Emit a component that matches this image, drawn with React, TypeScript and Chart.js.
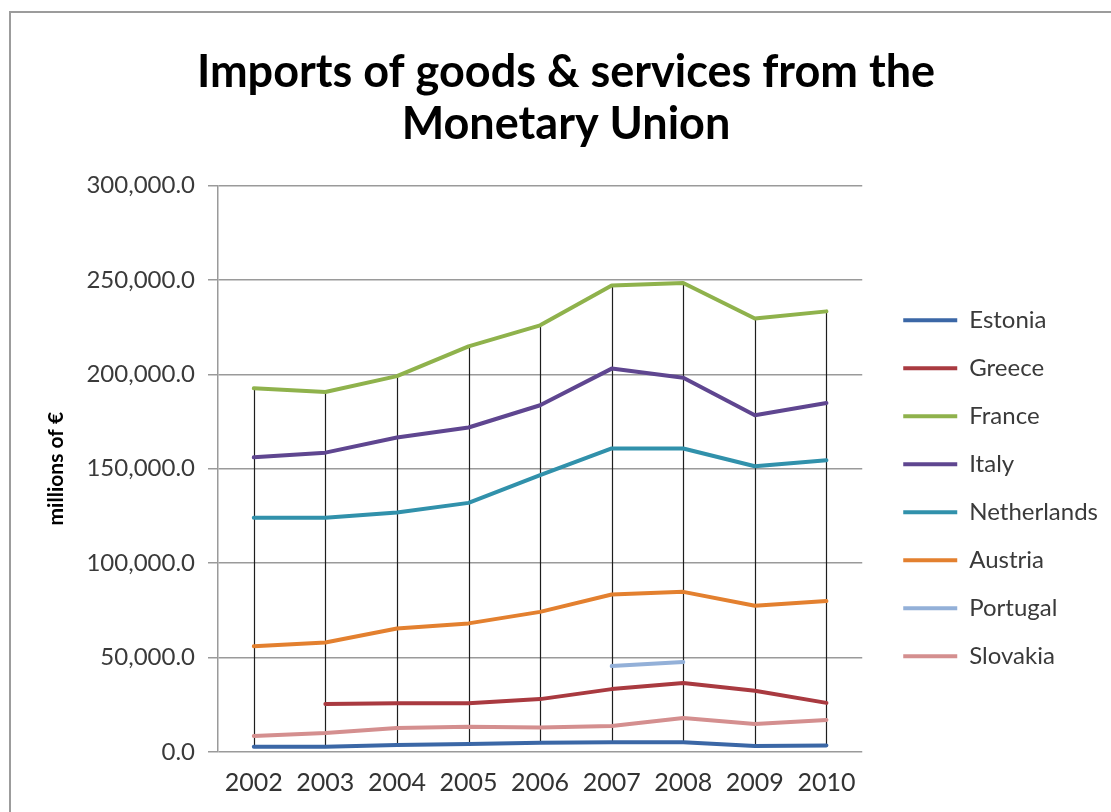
import React, { useEffect, useRef } from "react";
import { Chart, registerables } from "chart.js";

Chart.register(...registerables);

const years = ["2002", "2003", "2004", "2005", "2006", "2007", "2008", "2009", "2010"];
const estonia = [2800, 2800, 3700, 4200, 4900, 5100, 5100, 3200, 3500];
const greece = [null, 25400, 25800, 25800, 28000, 33300, 36500, 32400, 26000];
const france = [192600, 190600, 199000, 214800, 225900, 247000, 248300, 229500, 233300];
const italy = [156000, 158500, 166500, 171800, 183600, 203000, 198200, 178300, 184800];
const netherlands = [124000, 124000, 126800, 131900, 146600, 160700, 160700, 151300, 154500];
const austria = [56000, 58000, 65400, 68100, 74200, 83400, 84800, 77400, 79900];
const portugal = [null, null, null, null, null, 45500, 47600, null, null];
const slovakia = [8500, 10000, 12700, 13400, 13000, 13800, 18000, 14800, 17000];

const seriesNames = ["Estonia", "Greece", "France", "Italy", "Netherlands", "Austria", "Portugal", "Slovakia"];
const seriesColors = ["#3b67a6", "#a93a40", "#8fb24c", "#5f4690", "#3191ab", "#e3802f", "#93b0d8", "#d48f8f"];
const seriesValues = [estonia, greece, france, italy, netherlands, austria, portugal, slovakia];

const FONT = "Lato, 'Open Sans', 'DejaVu Sans', sans-serif";

const hiLoPlugin = {
  id: "hiLo",
  beforeDatasetsDraw(chart: any) {
    const { ctx, scales } = chart;
    const x = scales.x;
    const y = scales.y;
    ctx.save();
    ctx.strokeStyle = "#1e1e1e";
    ctx.lineWidth = 1.2;
    years.forEach((_, i) => {
      const vals = chart.data.datasets
        .map((d: any) => d.data[i])
        .filter((v: any) => v !== null && v !== undefined) as number[];
      if (!vals.length) return;
      const hi = Math.max(...vals);
      const lo = Math.min(...vals);
      const px = Math.round(x.getPixelForValue(i)) + 0.5;
      ctx.beginPath();
      ctx.moveTo(px, y.getPixelForValue(hi));
      ctx.lineTo(px, y.getPixelForValue(lo));
      ctx.stroke();
    });
    ctx.restore();
  },
};

export default function App() {
  const canvasRef = useRef<HTMLCanvasElement | null>(null);

  useEffect(() => {
    if (!canvasRef.current) return;
    const PAD_L = 24;
    const PAD_R = 3;
    const chart = new Chart(canvasRef.current, {
      type: "line",
      data: {
        labels: years,
        datasets: seriesNames.map((name, i) => ({
          label: name,
          data: seriesValues[i],
          borderColor: seriesColors[i],
          backgroundColor: seriesColors[i],
          borderWidth: 4,
          pointRadius: 0,
          pointHoverRadius: 0,
          tension: 0,
          spanGaps: false,
          borderCapStyle: "round",
          borderJoinStyle: "round",
          fill: false,
        })),
      },
      options: {
        responsive: false,
        animation: false,
        devicePixelRatio: 1,
        layout: { padding: { left: PAD_L, right: PAD_R, top: 0, bottom: 0 } },
        plugins: {
          title: {
            display: true,
            text: ["Imports of goods & services from the", "Monetary Union"],
            color: "#000",
            font: { family: FONT, size: 45, weight: "bold", lineHeight: 1.16 },
            padding: { top: 46, bottom: 35 },
          },
          legend: {
            display: true,
            position: "right",
            fullSize: false,
            title: {
              display: true,
              text: " ",
              font: { size: 10, lineHeight: 1.2 },
              padding: { top: 27, bottom: 0 },
            },
            labels: {
              usePointStyle: true,
              pointStyle: "line",
              pointStyleWidth: 54,
              padding: 24,
              color: "#3a3a3a",
              font: { family: FONT, size: 24 },
            },
          },
          tooltip: { enabled: false },
        },
        scales: {
          x: {
            type: "category",
            offset: true,
            grid: { display: false, drawTicks: false, offset: true },
            border: { display: false },
            ticks: {
              color: "#333",
              padding: 16,
              font: { family: FONT, size: 25 },
              maxRotation: 0,
            },
            afterFit: (s: any) => {
              s.height = 60;
            },
          },
          y: {
            min: 0,
            max: 300000,
            position: "left",
            ticks: {
              stepSize: 50000,
              color: "#3a3a3a",
              padding: 13,
              font: { family: FONT, size: 24 },
              callback: (v: any) =>
                Number(v).toLocaleString("en-US", { minimumFractionDigits: 1, maximumFractionDigits: 1 }),
            },
            grid: { color: "#9a9a9a", lineWidth: 1.5, drawTicks: true, tickLength: 10 },
            border: { display: true, color: "#9a9a9a", width: 1.5 },
            title: {
              display: true,
              text: "millions of €",
              color: "#000",
              font: { family: FONT, size: 21, weight: "bold" },
              padding: { top: 20, bottom: 0 },
            },
            afterFit: (s: any) => {
              s.width = 218 - PAD_L;
            },
          },
          yRight: {
            position: "right",
            display: false,
            afterFit: (s: any) => {
              s.width = 17;
            },
          },
        },
      } as any,
      plugins: [hiLoPlugin],
    });
    return () => chart.destroy();
  }, []);

  return (
    <div
      style={{
        position: "absolute",
        left: 0,
        top: 0,
        width: 1111,
        height: 812,
        overflow: "hidden",
        background: "#fff",
      }}
    >
      <div
        style={{
          position: "absolute",
          left: 9,
          top: 11,
          width: 1200,
          height: 900,
          borderLeft: "2px solid #9c9c9c",
          borderTop: "2px solid #9c9c9c",
        }}
      />
      <canvas
        ref={canvasRef}
        width={1111}
        height={812}
        style={{ position: "absolute", left: 0, top: 0, width: 1111, height: 812 }}
      />
    </div>
  );
}
